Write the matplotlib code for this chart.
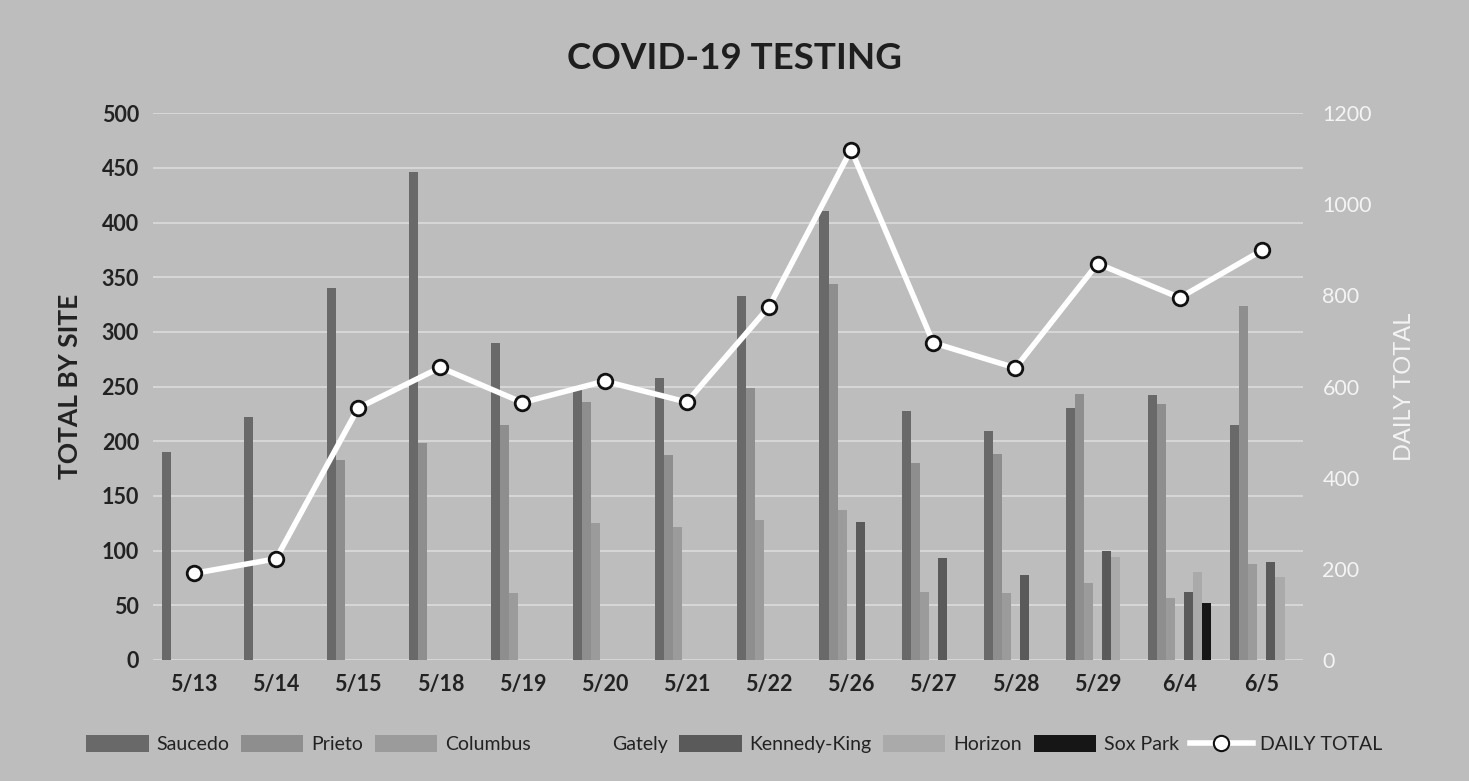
import numpy as np
import matplotlib.pyplot as plt
from matplotlib.lines import Line2D

plt.rcParams['font.family'] = ['Lato', 'DejaVu Sans']

# testing dates and per-site counts
dates = ['5/13', '5/14', '5/15', '5/18', '5/19', '5/20', '5/21',
         '5/22', '5/26', '5/27', '5/28', '5/29', '6/4', '6/5']

saucedo = [190, 222, 340, 446, 290, 247, 258, 333, 411, 228, 209, 230, 242, 215]
prieto = [0, 0, 183, 198, 215, 236, 187, 249, 344, 180, 188, 243, 234, 324]
columbus = [0, 0, 0, 0, 61, 125, 122, 128, 137, 62, 61, 70, 57, 88]
gately = [0, 0, 30, 0, 0, 0, 0, 65, 100, 133, 105, 133, 68, 106]
kennedy_king = [0, 0, 0, 0, 0, 0, 0, 0, 126, 93, 78, 100, 62, 90]
horizon = [0, 0, 0, 0, 0, 0, 0, 0, 0, 0, 0, 94, 80, 76]
sox_park = [0, 0, 0, 0, 0, 0, 0, 0, 0, 0, 0, 0, 52, 0]

daily_total = [190, 222, 553, 642, 565, 612, 566, 775, 1120, 696, 641, 870, 795, 899]

bg = '#bdbdbd'

sites = ['Saucedo', 'Prieto', 'Columbus', 'Gately', 'Kennedy-King', 'Horizon', 'Sox Park']
site_values = [saucedo, prieto, columbus, gately, kennedy_king, horizon, sox_park]
# Gately's colour washes out against the grey background
site_colors = ['#696969', '#8e8e8e', '#9b9b9b', bg, '#5a5a5a', '#aaaaaa', '#161616']

fig = plt.figure(figsize=(14.69, 7.81), dpi=100, facecolor=bg)
ax = fig.add_axes([0.104, 0.155, 0.783, 0.70])
ax.set_facecolor(bg)

x = np.arange(len(dates))
w = 0.11
for i, (name, vals, col) in enumerate(zip(sites, site_values, site_colors)):
    # keep the washed-out Gately bars under the gridlines
    z = 0.3 if name == 'Gately' else 2
    ax.bar(x + (i - 3) * w, vals, width=w, color=col, label=name, zorder=z)

ax.set_ylim(0, 500)
ax.set_yticks(range(0, 501, 50))
ax.set_xlim(-0.5, len(dates) - 0.5)
ax.set_xticks(x)
ax.set_xticklabels(dates)
ax.grid(axis='y', color='#dcdcdc', linewidth=1.2, zorder=1)
for s in ax.spines.values():
    s.set_visible(False)
ax.tick_params(length=0, labelsize=15.5, labelcolor='#222222', pad=10)
for lab in ax.get_xticklabels() + ax.get_yticklabels():
    lab.set_fontweight('bold')
ax.set_ylabel('TOTAL BY SITE', fontsize=19, fontweight='bold', color='#222222', labelpad=14)

# daily totals on the secondary axis
ax2 = ax.twinx()
ax2.plot(x, daily_total, color='white', linewidth=4, marker='o', markersize=10.5,
         markerfacecolor='white', markeredgecolor='#111111', markeredgewidth=2, zorder=5)
ax2.set_ylim(0, 1200)
ax2.set_yticks(range(0, 1201, 200))
for s in ax2.spines.values():
    s.set_visible(False)
ax2.tick_params(length=0, labelsize=15.5, labelcolor='#f4f4f4', pad=14)
ax2.set_ylabel('DAILY TOTAL', fontsize=17, color='#f4f4f4', labelpad=16)

fig.text(0.5, 0.925, 'COVID-19 TESTING', ha='center', va='center',
         fontsize=26.5, fontweight='bold', color='#1e1e1e')

handles, labels = ax.get_legend_handles_labels()
handles.append(Line2D([], [], color='white', linewidth=4, marker='o', markersize=11,
                      markerfacecolor='white', markeredgecolor='#111111', markeredgewidth=1.5))
labels.append('DAILY TOTAL')
fig.legend(handles, labels, loc='center', bbox_to_anchor=(0.5, 0.047), ncol=8,
           frameon=False, fontsize=14, handlelength=3.2, handleheight=0.9,
           columnspacing=0.6, handletextpad=0.4, labelcolor='#222222')

fig.savefig('out.png', dpi=100, facecolor=bg)
